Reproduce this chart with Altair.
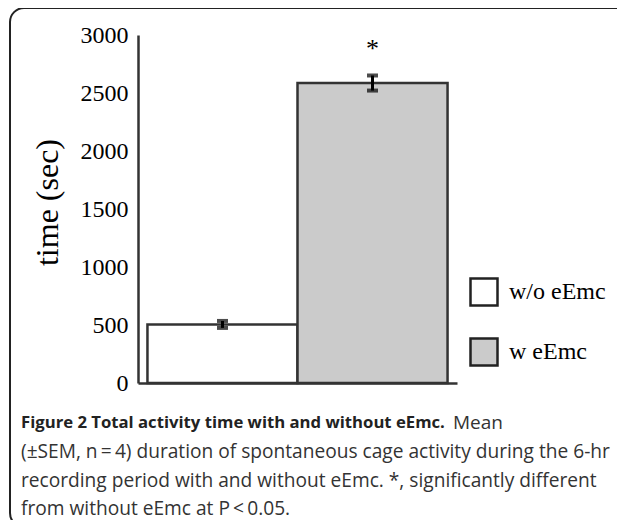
import altair as alt
import pandas as pd

groups = ["w/o eEmc", "w eEmc"]
means = [505, 2586]
sems = [30, 65]
sig = ["", "*"]
y_ticks = [0, 500, 1000, 1500, 2000, 2500, 3000]
fills = ["#ffffff", "#cbcbcb"]

caption_bold = "Figure 2 Total activity time with and without eEmc."
caption_lines = [
    "Mean",
    "(\u00b1SEM, n\u2009=\u20094) duration of spontaneous cage activity during the 6-hr",
    "recording period with and without eEmc. *, significantly different",
    "from without eEmc at P\u2009<\u20090.05.",
]

df = pd.DataFrame({
    "group": groups,
    "mean": means,
    "sem": sems,
    "sig": sig,
})
df["lo"] = df["mean"] - df["sem"]
df["hi"] = df["mean"] + df["sem"]

W, H = 319, 348
SERIF = "Liberation Serif"
SANS = "Open Sans"

xenc = alt.X("group:N", sort=groups,
             scale=alt.Scale(domain=groups, paddingInner=0, paddingOuter=0.063),
             axis=alt.Axis(labels=False, ticks=False, title=None,
                           domainColor="#333", domainWidth=2.5))
yscale = alt.Scale(domain=[0, 3000], nice=False, zero=True)

bars = alt.Chart(df).mark_bar(stroke="#333", strokeWidth=2.5).encode(
    x=xenc,
    y=alt.Y("mean:Q", scale=yscale,
            axis=alt.Axis(values=y_ticks, format="d", ticks=False, grid=False,
                          domainColor="#333", domainWidth=2.5,
                          labelFont=SERIF, labelFontSize=24, labelColor="black",
                          labelPadding=10,
                          title="time (sec)", titleFont=SERIF, titleFontSize=32,
                          titleFontWeight="normal", titleColor="black",
                          titleX=-91, titleY=167, titleBaseline="middle",
                          titleAlign="center")),
    color=alt.Color("group:N", sort=groups,
                    scale=alt.Scale(domain=groups, range=fills),
                    legend=alt.Legend(title=None, orient="none",
                                      legendX=331, legendY=242,
                                      symbolType="square", symbolSize=729,
                                      symbolStrokeColor="#222", symbolStrokeWidth=2.5,
                                      labelFont=SERIF, labelFontSize=24,
                                      labelColor="black", rowPadding=22,
                                      labelOffset=10)),
)

err = alt.Chart(df).mark_rule(color="black", strokeWidth=3).encode(
    x=alt.X("group:N", sort=groups),
    y=alt.Y("lo:Q", scale=yscale),
    y2="hi:Q",
)
caps_lo = alt.Chart(df).mark_tick(color="black", orient="horizontal", size=11, thickness=4).encode(
    x=alt.X("group:N", sort=groups),
    y=alt.Y("lo:Q", scale=yscale),
)
caps_hi = alt.Chart(df).mark_tick(color="black", orient="horizontal", size=11, thickness=4).encode(
    x=alt.X("group:N", sort=groups),
    y=alt.Y("hi:Q", scale=yscale),
)
star = alt.Chart(df).mark_text(font=SERIF, fontSize=26, color="black",
                               baseline="alphabetic", dy=-18).encode(
    x=alt.X("group:N", sort=groups),
    y=alt.Y("hi:Q", scale=yscale),
    text="sig:N",
)

frame = alt.Chart(pd.DataFrame({"k": [0]})).mark_rect(
    fill=None, fillOpacity=0, stroke="#222", strokeWidth=2, cornerRadius=14
).encode(x=alt.value(-128), x2=alt.value(560), y=alt.value(-27), y2=alt.value(492))

cap_x = -117
cap_y = [388, 417, 446, 474]
bold = alt.Chart(pd.DataFrame({"t": [caption_bold]})).mark_text(
    font=SANS, fontSize=16.7, fontWeight="bold", color="#222", align="left", baseline="middle"
).encode(x=alt.value(cap_x), y=alt.value(cap_y[0]), text="t:N")

cap_layers = []
cap_layers.append(alt.Chart(pd.DataFrame({"t": [caption_lines[0]]})).mark_text(
    font=SANS, fontSize=19, color="#333", align="left", baseline="middle"
).encode(x=alt.value(315), y=alt.value(cap_y[0]), text="t:N"))
for i in range(1, 4):
    cap_layers.append(alt.Chart(pd.DataFrame({"t": [caption_lines[i]]})).mark_text(
        font=SANS, fontSize=19.15, color="#333", align="left", baseline="middle"
    ).encode(x=alt.value(cap_x), y=alt.value(cap_y[i]), text="t:N"))

chart = alt.layer(frame, bars, err, caps_lo, caps_hi, star, bold, *cap_layers).properties(
    width=W, height=H,
    autosize=alt.AutoSizeParams(type="none"),
    padding={"left": 130, "top": 27, "right": 160, "bottom": 137},
).configure_view(stroke=None)

chart.save("out.html", embed_options={"renderer": "svg", "actions": False})
